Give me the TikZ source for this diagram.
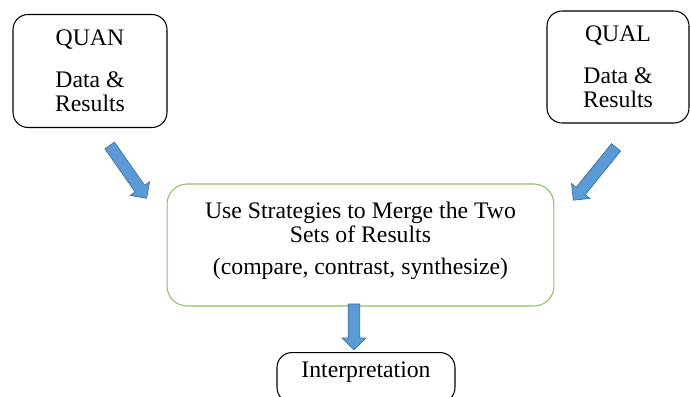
\documentclass[tikz,border=0pt]{standalone}
\usepackage{fontspec}
\setmainfont{Liberation Serif}
\usetikzlibrary{shapes.arrows}
\definecolor{arrowblue}{HTML}{5B9BD5}
\definecolor{arrowedge}{HTML}{41719C}
\definecolor{mergegreen}{HTML}{8CC063}
\tikzset{
 databox/.style={draw, line width=0.6pt, rounded corners=0.3cm, align=center, inner sep=0},
 mergebox/.style={draw=mergegreen, line width=0.6pt, rounded corners=0.4cm, align=center, inner sep=0},
 blockarrow/.style={single arrow, draw=arrowedge, fill=arrowblue, inner xsep=0, inner ysep=0.11cm, single arrow head extend=0.12cm}
}
\begin{document}
\begin{tikzpicture}[x=0.02cm,y=-0.02cm,font=\fontsize{13.5}{13.7}\selectfont]
\clip (0,0) rectangle (690,396);
\node[databox, minimum width=3.08cm, minimum height=2.26cm] (quan) at (90,71) {QUAN\\[10pt]Data \&\\Results};
\node[databox, minimum width=2.84cm, minimum height=2.24cm] (qual) at (618,67) {QUAL\\[10pt]Data \&\\Results};
\node[mergebox, minimum width=7.74cm, minimum height=2.44cm] (merge) at (360.5,245) {Use Strategies to Merge the Two\\Sets of Results\\[5pt](compare, contrast, synthesize)\\[-6pt]};
\node[databox, anchor=north, minimum width=3.56cm, text height=0.5cm, text depth=0.5cm] (interp) at (366,352) {Interpretation};

\node[blockarrow, minimum height=1.29cm, rotate=-55] (quanarrow) at (126.5,169.5) {};
\node[blockarrow, minimum height=1.36cm, rotate=231] (qualarrow) at (596.5,171.5) {};
\node[blockarrow, minimum height=0.92cm, rotate=-90] (mergearrow) at (354,324) {};
\end{tikzpicture}
\end{document}
